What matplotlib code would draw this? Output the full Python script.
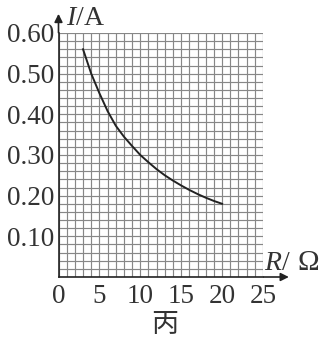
import numpy as np
import matplotlib
matplotlib.use("Agg")
import matplotlib.pyplot as plt

plt.rcParams['font.family'] = ['Liberation Serif', 'Noto Sans CJK SC']
plt.rcParams['mathtext.fontset'] = 'custom'
plt.rcParams['mathtext.rm'] = 'Liberation Serif'
plt.rcParams['mathtext.it'] = 'Liberation Serif:italic'

# values
R = [3, 4, 5, 6, 7, 8, 9, 10, 11, 12, 13, 14, 15, 16, 17, 18, 19, 20]
I = [0.56, 0.50, 0.452, 0.408, 0.372, 0.345, 0.322, 0.30, 0.282, 0.265,
     0.25, 0.237, 0.225, 0.214, 0.204, 0.195, 0.187, 0.18]

x_ticks = [0, 5, 10, 15, 20, 25]
y_ticks = [0.10, 0.20, 0.30, 0.40, 0.50, 0.60]
y_labels = ['0.10', '0.20', '0.30', '0.40', '0.50', '0.60']

fig = plt.figure(figsize=(3.24, 3.41), dpi=100)
ax = fig.add_axes([58.5/324, 1-277/341, 204.5/324, 244/341])

# grid paper
for gx in np.arange(0, 25.01, 1):
    ax.axvline(gx, color='#878787', lw=0.85, zorder=1)
for gy in np.arange(0, 0.601, 0.02):
    ax.axhline(gy, color='#878787', lw=0.85, zorder=1)

ax.plot(R, I, color='#222222', lw=1.4, zorder=3, solid_joinstyle='round')

ax.set_xlim(0, 25)
ax.set_ylim(0, 0.6)
ax.set_xticks(x_ticks)
ax.set_yticks(y_ticks)
ax.set_yticklabels(y_labels)
ax.tick_params(length=0, labelsize=19.5, colors='#333333', pad=3)
ax.tick_params(axis='x', pad=5)
for s in ['top', 'right']:
    ax.spines[s].set_visible(False)
for s in ['left', 'bottom']:
    ax.spines[s].set_color('#222222')
    ax.spines[s].set_linewidth(1.2)

# axis arrows
ax.annotate('', xy=(0, 1.09), xytext=(0, 0.99), xycoords='axes fraction',
            arrowprops=dict(arrowstyle='-|>', color='#222222', lw=1.2, mutation_scale=12))
ax.annotate('', xy=(1.14, 0), xytext=(0.99, 0), xycoords='axes fraction',
            arrowprops=dict(arrowstyle='-|>', color='#222222', lw=1.2, mutation_scale=12))

fig.text(0.203, 0.927, '$I$/A', fontsize=20, color='#333333')
fig.text(0.815, 0.207, '$R$/', fontsize=20, color='#333333')
fig.text(0.918, 0.207, 'Ω', fontsize=21, color='#333333')
fig.text(0.509, 0.047, '丙', fontsize=19.5, color='#333333', ha='center', va='center',
         family=['Noto Sans CJK SC'])

fig.savefig('out.png', dpi=100)
